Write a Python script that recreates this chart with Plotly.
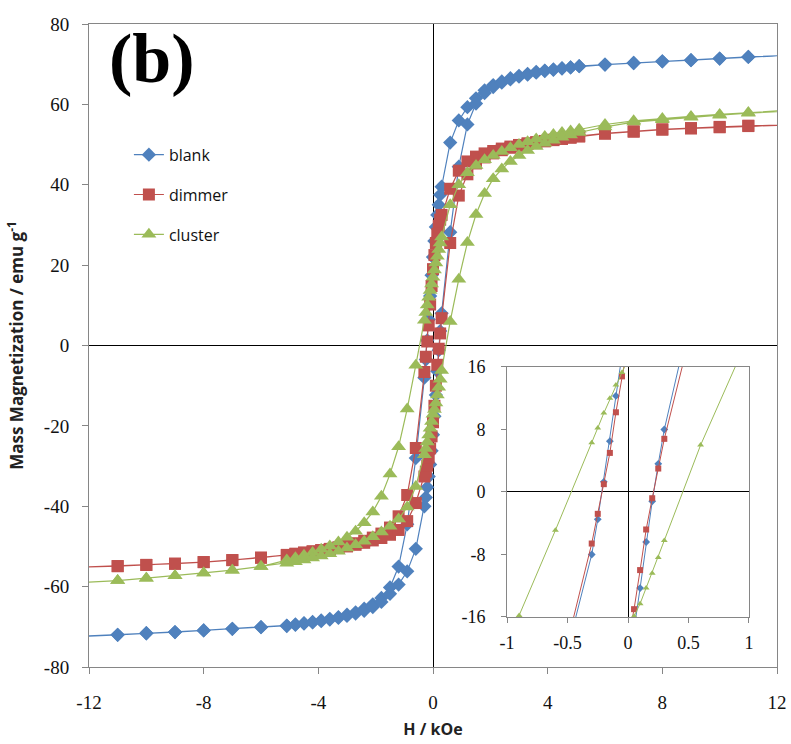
import plotly.graph_objects as go

# ---------------- data ----------------
H_desc = [13, 11, 10, 9, 8, 7, 6, 5.1, 4.8, 4.5, 4.2, 3.9, 3.6, 3.3, 3.0, 2.7, 2.4, 2.1, 1.8, 1.5,
          1.2, 0.9, 0.6, 0.3, 0.25, 0.2, 0.15, 0.1, 0.05, 0, -0.05, -0.1, -0.15, -0.2, -0.25, -0.3,
          -0.6, -0.9, -1.2, -1.5, -1.8, -2.1, -2.4, -2.7, -3.0, -3.3, -3.6, -3.9, -4.2, -4.5, -4.8,
          -5.1, -6, -7, -8, -9, -10, -11, -13]
H_asc = [-13, -11, -10, -9, -8, -7, -6, -5.1, -4.8, -4.5, -4.2, -3.9, -3.6, -3.3, -3.0, -2.7, -2.4,
         -2.1, -1.8, -1.5, -1.2, -0.9, -0.6, -0.3, -0.25, -0.2, -0.15, -0.1, -0.05, 0, 0.05, 0.1,
         0.15, 0.2, 0.25, 0.3, 0.6, 0.9, 1.2, 1.5, 1.8, 2.1, 2.4, 2.7, 3.0, 3.3, 3.6, 3.9, 4.2, 4.5,
         4.8, 5.1, 6, 7, 8, 9, 10, 11, 13]

blank_desc = [72.4, 71.8, 71.4, 71.0, 70.7, 70.3, 69.9, 69.5, 69.2, 69.0, 68.7, 68.4, 68.1, 67.6,
              67.1, 66.5, 65.7, 64.8, 63.5, 61.5, 59.3, 56.0, 50.5, 39.5, 37.5, 35.0, 32.5, 29.5,
              26.0, 22.0, 17.5, 12.3, 6.5, 1.3, -3.5, -8.0, -28.0, -44.5, -55.0, -60.2, -62.8,
              -64.4, -65.5, -66.4, -67.0, -67.6, -68.0, -68.4, -68.8, -69.1, -69.4, -69.7, -70.1,
              -70.5, -70.9, -71.3, -71.6, -72.0, -72.6]
blank_asc = [-72.6, -72.0, -71.6, -71.3, -70.9, -70.5, -70.1, -69.8, -69.5, -69.2, -68.9, -68.6,
             -68.2, -67.8, -67.3, -66.7, -66.0, -65.1, -63.8, -61.8, -59.5, -56.2, -50.6, -40.0,
             -37.8, -35.3, -32.6, -29.6, -26.2, -22.2, -17.6, -12.3, -6.4, -1.2, 3.6, 8.0, 28.2,
             44.5, 55.0, 60.2, 62.8, 64.3, 65.4, 66.2, 66.9, 67.4, 67.9, 68.3, 68.6, 68.9, 69.2,
             69.5, 69.9, 70.3, 70.7, 71.0, 71.4, 71.8, 72.4]

dimmer_desc = [55.1, 54.7, 54.4, 54.1, 53.8, 53.3, 52.8, 52.1, 51.8, 51.5, 51.2, 50.9, 50.6, 50.3,
               49.9, 49.5, 49.0, 48.4, 47.8, 47.0, 45.8, 43.5, 39.0, 32.5, 31.3, 29.8, 27.8, 25.5,
               22.5, 19.0, 14.8, 10.2, 5.0, 1.0, -2.8, -6.6, -25.5, -37.2, -42.5, -45.3, -46.8,
               -47.8, -48.6, -49.2, -49.7, -50.2, -50.6, -50.9, -51.2, -51.5, -51.8, -52.1, -52.8,
               -53.4, -53.9, -54.3, -54.6, -54.9, -55.3]
dimmer_asc = [-55.3, -54.9, -54.6, -54.3, -53.9, -53.4, -52.8, -52.2, -51.9, -51.6, -51.3, -51.0,
              -50.7, -50.4, -50.0, -49.6, -49.1, -48.5, -47.9, -47.1, -45.9, -43.7, -39.2, -32.6,
              -31.4, -29.9, -27.9, -25.6, -22.6, -19.1, -15.0, -10.0, -4.8, -0.8, 3.0, 6.8, 25.5,
              37.3, 42.6, 45.3, 46.8, 47.8, 48.6, 49.2, 49.7, 50.2, 50.5, 50.8, 51.1, 51.4, 51.7,
              52.0, 52.7, 53.2, 53.7, 54.0, 54.3, 54.6, 55.0]

cluster_desc = [58.8, 58.0, 57.5, 57.0, 56.5, 55.9, 55.0, 53.8, 53.4, 53.0, 52.5, 52.0, 51.4, 50.7,
                50.0, 49.2, 48.3, 47.3, 46.2, 44.8, 43.0, 40.0, 35.0, 27.0, 25.5, 23.9, 22.2, 20.5,
                18.8, 17.0, 15.3, 13.7, 12.0, 10.1, 8.2, 6.3, -4.9, -15.8, -25.2, -32.0, -37.5,
                -41.4, -44.1, -46.2, -47.7, -48.9, -49.9, -50.7, -51.5, -52.2, -52.8, -53.4, -55.0,
                -55.9, -56.6, -57.3, -57.9, -58.5, -59.3]
cluster_asc = [-59.3, -58.5, -57.9, -57.3, -56.6, -55.9, -55.0, -54.2, -53.8, -53.4, -52.9, -52.4,
               -51.8, -51.2, -50.4, -49.6, -48.7, -47.6, -46.4, -45.0, -43.2, -40.2, -35.1, -27.2,
               -25.6, -24.0, -22.3, -20.6, -18.9, -17.1, -15.9, -14.3, -12.3, -10.4, -8.4, -6.2,
               6.0, 16.5, 25.6, 32.6, 37.8, 41.5, 43.9, 45.8, 47.3, 48.5, 49.5, 50.3, 51.1, 51.8,
               52.4, 53.0, 54.4, 55.6, 56.2, 56.8, 57.3, 57.8, 58.6]

series_names = ["blank", "dimmer", "cluster"]

main_xticks = [-12, -8, -4, 0, 4, 8, 12]
main_xticklabels = ["-12", "-8", "-4", "0", "4", "8", "12"]
main_yticks = [-80, -60, -40, -20, 0, 20, 40, 60, 80]
main_yticklabels = ["-80", "-60", "-40", "-20", "0", "20", "40", "60", "80"]
inset_xticks = [-1, -0.5, 0, 0.5, 1]
inset_xticklabels = ["-1", "-0.5", "0", "0.5", "1"]
inset_yticks = [-16, -8, 0, 8, 16]
inset_yticklabels = ["-16", "-8", "0", "8", "16"]

# ---------------- styling ----------------
colors = ["#4F81BD", "#C0504D", "#9BBB59"]
symbols = ["diamond", "square", "triangle-up"]
main_sizes = [11, 12, 13]
inset_sizes = [6, 6, 6]
desc_sets = [blank_desc, dimmer_desc, cluster_desc]
asc_sets = [blank_asc, dimmer_asc, cluster_asc]

fig = go.Figure()
for i, name in enumerate(series_names):
    xs = H_desc + H_asc
    ys = desc_sets[i] + asc_sets[i]
    fig.add_trace(go.Scatter(
        x=xs, y=ys, mode="lines+markers", name=name, legendgroup=name,
        line=dict(color=colors[i], width=1.2),
        marker=dict(symbol=symbols[i], size=main_sizes[i], color=colors[i], line=dict(width=0)),
        xaxis="x", yaxis="y"))
for i, name in enumerate(series_names):
    xs = H_desc + H_asc
    ys = desc_sets[i] + asc_sets[i]
    fig.add_trace(go.Scatter(
        x=xs, y=ys, mode="lines+markers", name=name, showlegend=False,
        line=dict(color=colors[i], width=1),
        marker=dict(symbol=symbols[i], size=inset_sizes[i], color=colors[i], line=dict(width=0)),
        xaxis="x2", yaxis="y2"))

serif = "Liberation Serif"
sans = "Open Sans"
axis_gray = "#868686"

fig.update_layout(
    width=791, height=744,
    margin=dict(l=89, r=14, t=24, b=77),
    paper_bgcolor="white", plot_bgcolor="white",
    showlegend=True,
    legend=dict(x=0.058, y=0.823, xanchor="left", yanchor="top",
                font=dict(family=sans, size=16, color="#111"),
                bgcolor="rgba(0,0,0,0)", tracegroupgap=16),
    xaxis=dict(domain=[0, 1], range=[-12, 12], tickvals=main_xticks, ticktext=main_xticklabels,
               automargin=False,
               ticks="outside", ticklen=6, tickcolor=axis_gray, ticklabelstandoff=12,
               tickfont=dict(family=serif, size=19, color="#111"),
               showline=True, linecolor=axis_gray, linewidth=1, mirror=True,
               zeroline=True, zerolinecolor="black", zerolinewidth=1, showgrid=False,
               title=dict(text="H / kOe", standoff=12,
                          font=dict(family=sans, size=16, color="#222", weight="bold"))),
    yaxis=dict(domain=[0, 1], range=[-80, 80], tickvals=main_yticks, ticktext=main_yticklabels,
               automargin=False,
               ticks="outside", ticklen=6, tickcolor=axis_gray, ticklabelstandoff=9,
               tickfont=dict(family=serif, size=19, color="#111"),
               showline=True, linecolor=axis_gray, linewidth=1, mirror=True,
               zeroline=True, zerolinecolor="black", zerolinewidth=1, showgrid=False,
               title=dict(text="Mass Magnetization / emu g<sup>-1</sup>", standoff=15,
                          font=dict(family=sans, size=17, color="#222", weight="bold"))),
    xaxis2=dict(domain=[0.6076, 0.9593], anchor="y2", range=[-1, 1],
                tickvals=inset_xticks, ticktext=inset_xticklabels, automargin=False,
                ticks="outside", ticklen=5, tickcolor=axis_gray, ticklabelstandoff=4,
                tickfont=dict(family=serif, size=18, color="#111"),
                showline=True, linecolor=axis_gray, linewidth=1, mirror=True,
                zeroline=True, zerolinecolor="black", zerolinewidth=1, showgrid=False),
    yaxis2=dict(domain=[0.0778, 0.4666], anchor="x2", range=[-16, 16],
                tickvals=inset_yticks, ticktext=inset_yticklabels, automargin=False,
                ticks="outside", ticklen=5, tickcolor=axis_gray, ticklabelstandoff=12,
                tickfont=dict(family=serif, size=18, color="#111"),
                showline=True, linecolor=axis_gray, linewidth=1, mirror=True,
                zeroline=True, zerolinecolor="black", zerolinewidth=1, showgrid=False),
    annotations=[dict(text="<b>(b)</b>", xref="paper", yref="paper", x=0.092, y=0.946,
                      xanchor="center", yanchor="middle", showarrow=False,
                      font=dict(family=serif, size=70, color="black"))],
)

fig.write_html("out.html")
